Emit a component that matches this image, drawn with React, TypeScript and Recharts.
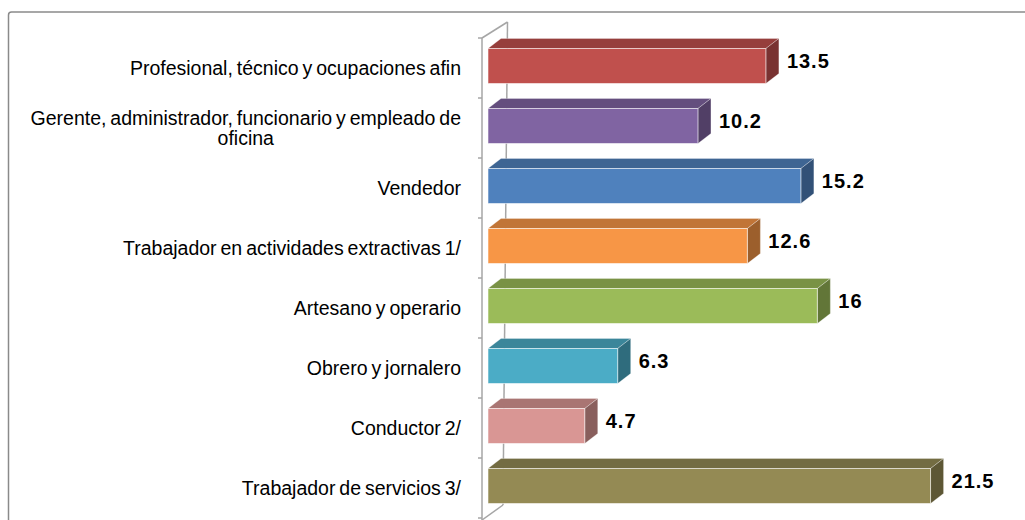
import React from 'react';
import { BarChart, Bar, XAxis, YAxis, LabelList } from 'recharts';

const categories = [
  'Profesional, técnico y ocupaciones afin',
  'Gerente, administrador, funcionario y empleado de\noficina',
  'Vendedor',
  'Trabajador en actividades extractivas 1/',
  'Artesano y operario',
  'Obrero y jornalero',
  'Conductor 2/',
  'Trabajador de servicios 3/',
];
const values = [13.5, 10.2, 15.2, 12.6, 16, 6.3, 4.7, 21.5];
const valueLabels = ['13.5', '10.2', '15.2', '12.6', '16', '6.3', '4.7', '21.5'];
const colors = ['#C0504D', '#8064A2', '#4F81BD', '#F79646', '#9BBB59', '#4BACC6', '#D99694', '#948A54'];

const data = categories.map((name, i) => ({ name, value: values[i], label: valueLabels[i], color: colors[i] }));

const W = 1025;
const H = 520;
const MARGIN = { top: 38, right: 43, bottom: 2, left: 0 };
const YAXIS_W = 488;
const BAND = (H - MARGIN.top - MARGIN.bottom) / categories.length;
const DX = 13;
const DY = 10;
const SHIFT = 2.5;
const LABEL_RIGHT = 461;
const AXIS_X = 482;
const FONT = '"Liberation Sans", Arial, sans-serif';
const CAT_SIZE = 19.5;
const WORD_SP = -1.5;

function shade(hex: string, f: number) {
  const n = parseInt(hex.slice(1), 16);
  const r = Math.round(((n >> 16) & 255) * f);
  const g = Math.round(((n >> 8) & 255) * f);
  const b = Math.round((n & 255) * f);
  return `rgb(${r},${g},${b})`;
}

let ctx: CanvasRenderingContext2D | null = null;
function measure(text: string, font: string) {
  if (!ctx) ctx = document.createElement('canvas').getContext('2d');
  if (!ctx) return text.length * 9;
  ctx.font = font;
  const spaces = (text.match(/ /g) || []).length;
  return ctx.measureText(text).width + spaces * WORD_SP;
}

const Bar3D = (props: any) => {
  const { x, y, width, height, payload } = props;
  const c = payload.color;
  const y0 = y - SHIFT;
  const w = width;
  const h = height;
  const top = `${x},${y0} ${x + DX},${y0 - DY} ${x + w + DX},${y0 - DY} ${x + w},${y0}`;
  const side = `${x + w},${y0} ${x + w + DX},${y0 - DY} ${x + w + DX},${y0 + h - DY} ${x + w},${y0 + h}`;
  return (
    <g>
      <polygon points={top} fill={shade(c, 0.78)} stroke="rgba(255,255,255,0.35)" strokeWidth={0.8} />
      <polygon points={side} fill={shade(c, 0.63)} stroke="rgba(255,255,255,0.35)" strokeWidth={0.8} />
      <rect x={x} y={y0} width={w} height={h} fill={c} stroke="rgba(255,255,255,0.55)" strokeWidth={1} />
    </g>
  );
};

const ValueLabel = (props: any) => {
  const { x, y, width, height, value } = props;
  const lx = x + width + DX + 8;
  const ly = y - SHIFT + height / 2 - DY / 2;
  return (
    <text x={lx} y={ly} dy="0.36em" fontFamily={FONT} fontSize={20} fontWeight="bold" letterSpacing={1} fill="#000">
      {value}
    </text>
  );
};

const CatTick = (props: any) => {
  const { y, payload, index } = props;
  const lines: string[] = String(payload.value).split('\n');
  const lineH = 20.5;
  const startY = y - ((lines.length - 1) * lineH) / 2;
  const font = `${CAT_SIZE}px ${FONT}`;
  const maxW = Math.max(...lines.map((l) => measure(l, font)));
  const multi = lines.length > 1;
  return (
    <g>
      <line x1={AXIS_X - 4} x2={AXIS_X} y1={y - BAND / 2} y2={y - BAND / 2} stroke="#A6A6A6" strokeWidth={1.5} />
      {index === categories.length - 1 && (
        <line x1={AXIS_X - 4} x2={AXIS_X} y1={y + BAND / 2} y2={y + BAND / 2} stroke="#A6A6A6" strokeWidth={1.5} />
      )}
      {lines.map((l, i) => (
        <text
          key={i}
          x={multi ? LABEL_RIGHT - maxW / 2 : LABEL_RIGHT}
          y={startY + i * lineH}
          dy="0.36em"
          textAnchor={multi ? 'middle' : 'end'}
          fontFamily={FONT}
          fontSize={CAT_SIZE}
          wordSpacing={WORD_SP}
          fill="#000"
        >
          {l}
        </text>
      ))}
    </g>
  );
};

export default function App() {
  return (
    <div style={{ position: 'fixed', left: 0, top: 0, width: W, height: H, overflow: 'hidden', background: '#fff' }}>
      <svg width={W} height={H} style={{ position: 'absolute', left: 0, top: 0 }}>
        <rect x={8.5} y={12} width={1200} height={700} rx={3} fill="#fff" stroke="#8A8A8A" strokeWidth={1.5} />
        <line x1={AXIS_X} y1={38} x2={AXIS_X} y2={H} stroke="#A6A6A6" strokeWidth={1.5} />
        <line x1={507.5} y1={22} x2={503} y2={505} stroke="#A6A6A6" strokeWidth={1.5} />
        <line x1={AXIS_X} y1={38} x2={507.5} y2={22} stroke="#A6A6A6" strokeWidth={1.5} />
        <line x1={AXIS_X} y1={H} x2={503} y2={505} stroke="#A6A6A6" strokeWidth={1.5} />
      </svg>
      <div style={{ position: 'absolute', left: 0, top: 0 }}>
        <BarChart width={W} height={H} data={data} layout="vertical" margin={MARGIN}>
          <XAxis type="number" domain={[0, 24]} hide />
          <YAxis
            type="category"
            dataKey="name"
            width={YAXIS_W}
            axisLine={false}
            tickLine={false}
            interval={0}
            tick={<CatTick />}
          />
          <Bar dataKey="value" barSize={35} shape={<Bar3D />} isAnimationActive={false}>
            <LabelList dataKey="label" content={<ValueLabel />} />
          </Bar>
        </BarChart>
      </div>
    </div>
  );
}
